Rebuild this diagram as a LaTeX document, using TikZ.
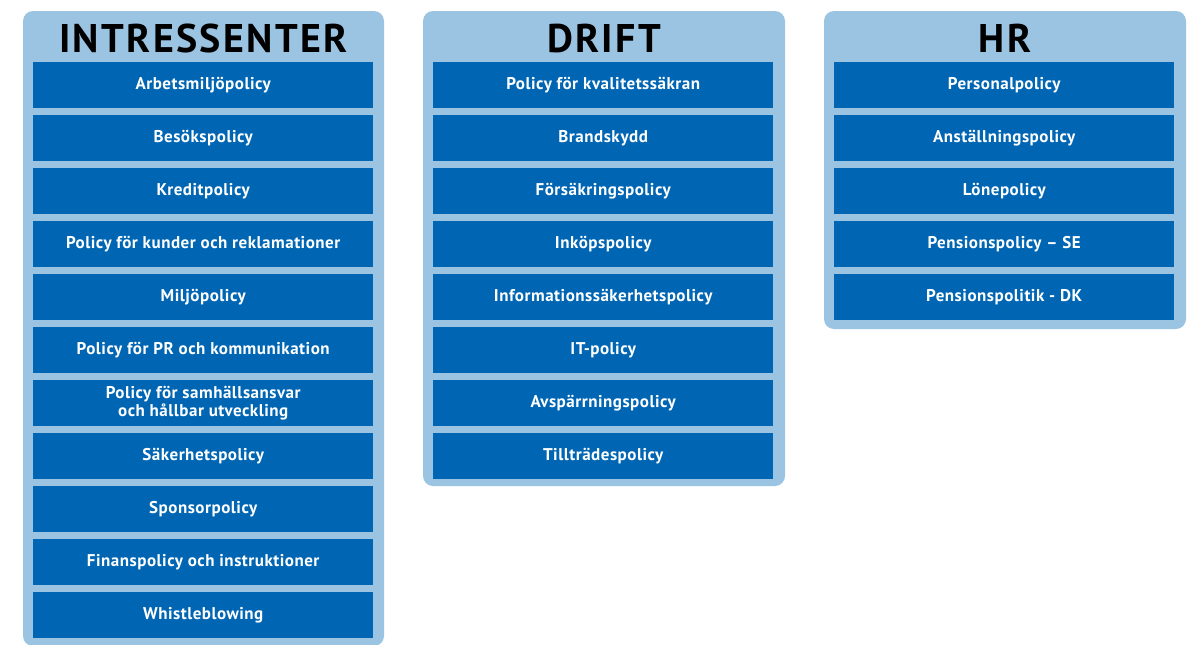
\documentclass[tikz,border=0pt]{standalone}
\usepackage{fontspec}
\setmainfont{PT Sans}
\definecolor{panel}{HTML}{9BC3E2}
\definecolor{item}{HTML}{0066B3}
\begin{document}
\begin{tikzpicture}[x=1pt,y=-1pt,
  panelbox/.style={fill=panel,rounded corners=10pt},
  head/.style={anchor=base,font=\bfseries\fontsize{40}{40}\selectfont\addfontfeature{LetterSpace=6},text=black},
  itembox/.style={fill=item,minimum width=340pt,minimum height=46pt,inner sep=0pt,text=white,
    font=\bfseries\fontsize{17}{18}\selectfont\addfontfeature{LetterSpace=3},align=center,anchor=north west}]
\useasboundingbox (0,0) rectangle (1195,645);
\clip (0,0) rectangle (1195,645);
\fill[panelbox] (23,11) rectangle (384,646);
\fill[panelbox] (423,11) rectangle (785,486);
\fill[panelbox] (824,11) rectangle (1186,329);
\node[head] (h1) at (203.5,52) {INTRESSENTER};
\node[head] (h2) at (604,52) {DRIFT};
\node[head] (h3) at (1005,52) {HR};
\foreach \t [count=\i from 0] in {Arbetsmiljöpolicy,Besökspolicy,Kreditpolicy,Policy för kunder och reklamationer,Miljöpolicy,Policy för PR och kommunikation,{Policy för samhällsansvar\\och hållbar utveckling},Säkerhetspolicy,Sponsorpolicy,Finanspolicy och instruktioner,Whistleblowing}
  \node[itembox] (a\i) at (33,62+53*\i) {\t};
\foreach \t [count=\i from 0] in {Policy för kvalitetssäkran,Brandskydd,Försäkringspolicy,Inköpspolicy,Informationssäkerhetspolicy,IT-policy,Avspärrningspolicy,Tillträdespolicy}
  \node[itembox] (b\i) at (433,62+53*\i) {\t};
\foreach \t [count=\i from 0] in {Personalpolicy,Anställningspolicy,Lönepolicy,Pensionspolicy – SE,Pensionspolitik - DK}
  \node[itembox] (c\i) at (834,62+53*\i) {\t};
\end{tikzpicture}
\end{document}
